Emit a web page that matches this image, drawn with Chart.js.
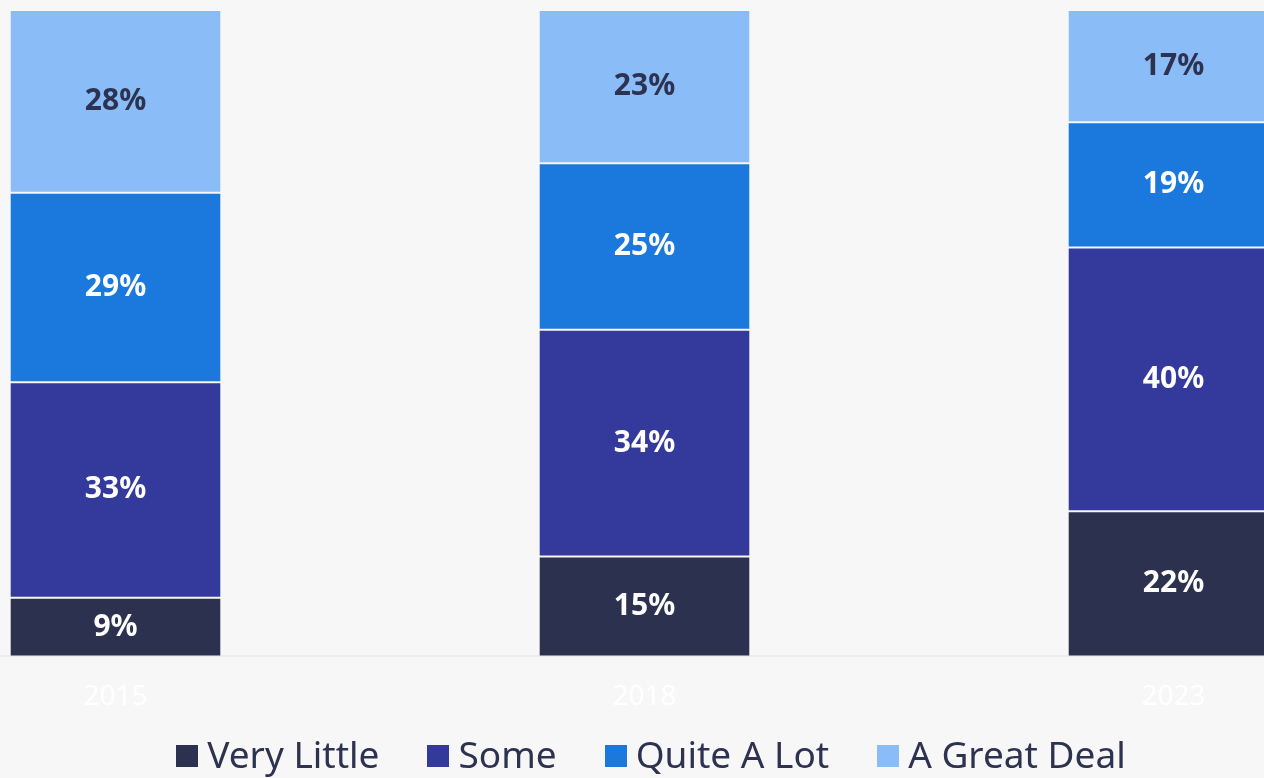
<!DOCTYPE html>
<html>
<head>
<meta charset="utf-8">
<script src="https://cdn.jsdelivr.net/npm/chart.js@4.4.1/dist/chart.umd.min.js"></script>
<style>
  html, body { margin: 0; padding: 0; background: #f7f7f7; overflow: hidden; }
  body { width: 1264px; height: 778px; position: relative; font-family: "Noto Sans", sans-serif; }
  #wrap { position: absolute; left: -149px; top: 0; width: 1600px; height: 778px; }
  #legend { position: absolute; left: -149px; width: 1600px; top: 731px; display: flex; justify-content: center; }
  .item { display: flex; align-items: center; margin: 0 24px; font-size: 37px; color: #2d3250; line-height: 46px; }
  .box { width: 22px; height: 22px; margin-right: 9px; margin-top: 3px; }
</style>
</head>
<body>
<div id="wrap"><canvas id="pollChart"></canvas></div>
<div id="legend"></div>
<script>
// survey years
var years = ['2015', '2018', '2023'];
// answers, bottom to top
var seriesNames = ['Very Little', 'Some', 'Quite A Lot', 'A Great Deal'];
var veryLittle = [9, 15, 22];
var some = [33, 34, 40];
var quiteALot = [29, 25, 19];
var greatDeal = [28, 23, 17];
var colors = ['#2c3150', '#333a9c', '#1b78dc', '#8abcf8'];
var labelColors = ['#ffffff', '#ffffff', '#ffffff', '#2d3250'];

var rawSeries = [veryLittle, some, quiteALot, greatDeal];

// bars are shown as 100% stacks, labels keep the rounded numbers
var totals = years.map(function(y, i) {
  var t = 0;
  for (var s = 0; s < rawSeries.length; s++) t += rawSeries[s][i];
  return t;
});

var datasets = rawSeries.map(function(vals, s) {
  return {
    label: seriesNames[s],
    data: vals.map(function(v, i) { return v / totals[i] * 100; }),
    raw: vals,
    backgroundColor: colors[s],
    borderColor: 'rgba(255,255,255,0.12)',
    borderWidth: 1,
    borderSkipped: false,
    barPercentage: 0.4,
    categoryPercentage: 1
  };
});

// write the number in the middle of each segment
var segmentLabels = {
  id: 'segmentLabels',
  afterDatasetsDraw: function(chart) {
    var ctx = chart.ctx;
    ctx.save();
    ctx.font = 'bold 30px "Noto Sans", sans-serif';
    ctx.textAlign = 'center';
    ctx.textBaseline = 'middle';
    chart.data.datasets.forEach(function(ds, s) {
      var meta = chart.getDatasetMeta(s);
      ctx.fillStyle = labelColors[s];
      meta.data.forEach(function(bar, i) {
        ctx.fillText(ds.raw[i] + '%', bar.x, (bar.y + bar.base) / 2);
      });
    });
    ctx.restore();
  }
};

var ctx = document.getElementById('pollChart').getContext('2d');
var myChart = new Chart(ctx, {
  type: 'bar',
  data: { labels: years, datasets: datasets },
  plugins: [segmentLabels],
  options: {
    responsive: true,
    maintainAspectRatio: false,
    animation: false,
    layout: { padding: { top: 10, right: 13, bottom: 48, left: 0 } },
    plugins: {
      legend: { display: false },
      tooltip: { enabled: false }
    },
    scales: {
      x: {
        stacked: true,
        grid: { display: false },
        border: { display: true, color: '#ececec', width: 2 },
        ticks: { color: '#ffffff', padding: 16, font: { family: '"Noto Sans", sans-serif', size: 28 } }
      },
      y: {
        stacked: true,
        display: false,
        min: 0,
        max: 100
      }
    }
  }
});

// html legend
var legend = document.getElementById('legend');
seriesNames.forEach(function(name, s) {
  var item = document.createElement('div');
  item.className = 'item';
  var box = document.createElement('span');
  box.className = 'box';
  box.style.background = colors[s];
  item.appendChild(box);
  item.appendChild(document.createTextNode(name));
  legend.appendChild(item);
});
</script>
</body>
</html>
